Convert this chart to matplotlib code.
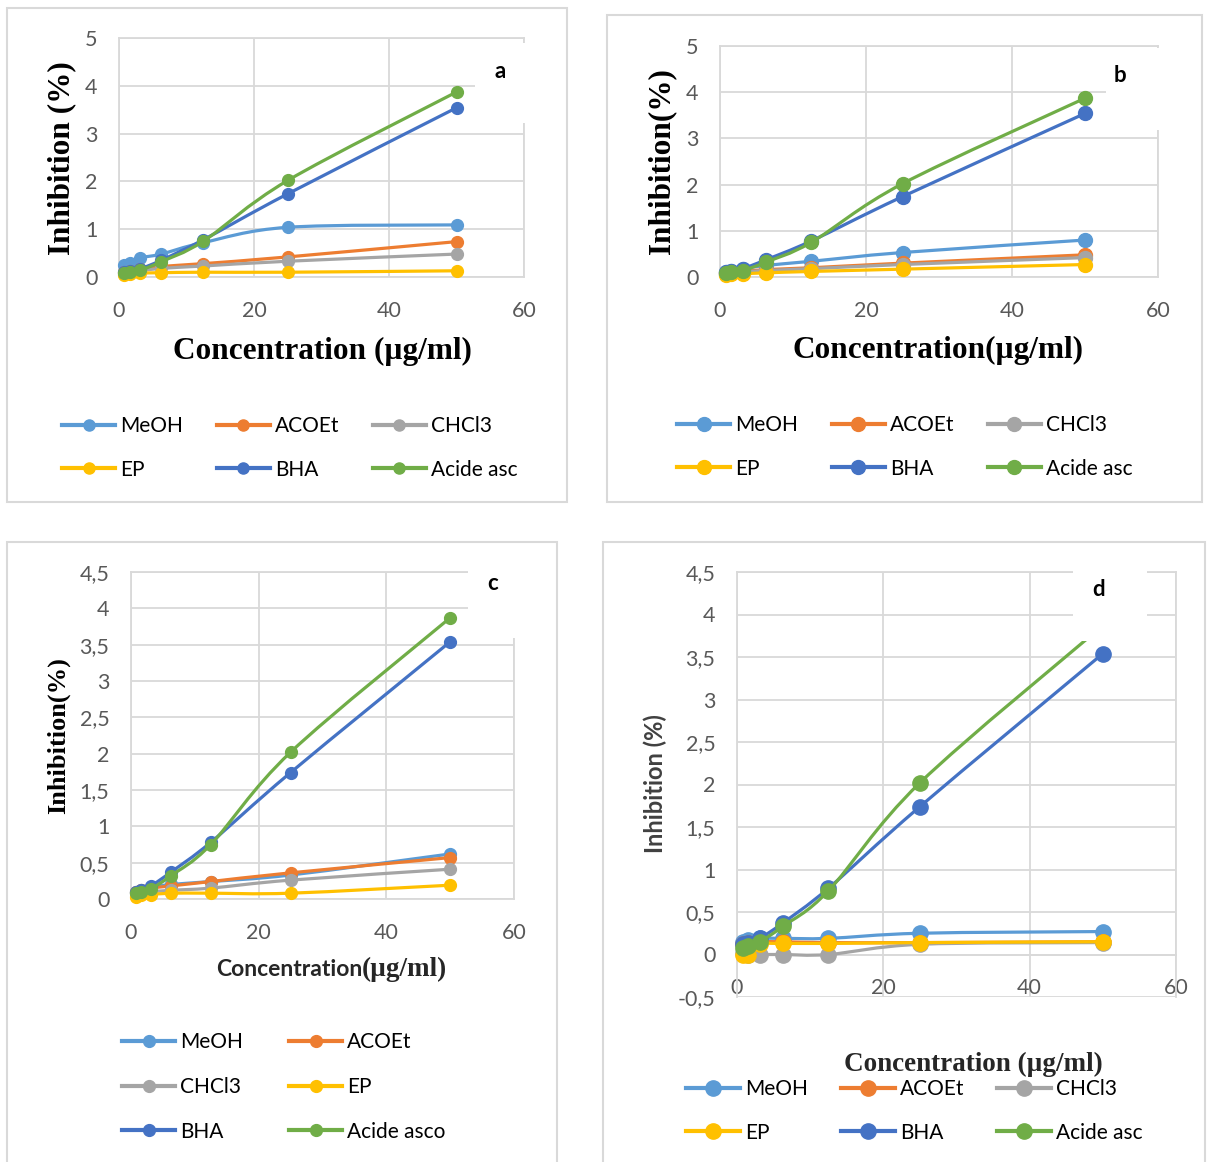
import numpy as np
import matplotlib.pyplot as plt
from matplotlib.path import Path
from matplotlib.patches import PathPatch, Rectangle
from matplotlib.lines import Line2D

# concentrations (µg/ml)
conc = [0.78, 1.56, 3.125, 6.25, 12.5, 25, 50]
names = ['MeOH', 'ACOEt', 'CHCl3', 'EP', 'BHA', 'Acide asc']
colors = ['#5B9BD5', '#ED7D31', '#A5A5A5', '#FFC000', '#4472C4', '#70AD47']

# panel a
meoh_a = [0.25, 0.30, 0.40, 0.48, 0.72, 1.04, 1.09]
acoet_a = [0.10, 0.12, 0.16, 0.22, 0.28, 0.42, 0.74]
chcl3_a = [0.08, 0.10, 0.13, 0.18, 0.23, 0.33, 0.48]
ep_a = [0.05, 0.06, 0.08, 0.09, 0.10, 0.10, 0.13]
bha_a = [0.10, 0.12, 0.17, 0.35, 0.78, 1.74, 3.54]
asc_a = [0.08, 0.10, 0.14, 0.32, 0.75, 2.02, 3.87]

# panel b
meoh_b = [0.10, 0.13, 0.18, 0.25, 0.34, 0.53, 0.80]
acoet_b = [0.08, 0.10, 0.12, 0.16, 0.20, 0.30, 0.48]
chcl3_b = [0.07, 0.09, 0.11, 0.14, 0.18, 0.27, 0.42]
ep_b = [0.05, 0.06, 0.07, 0.09, 0.12, 0.17, 0.27]
bha_b = [0.10, 0.13, 0.18, 0.37, 0.78, 1.74, 3.54]
asc_b = [0.08, 0.10, 0.14, 0.32, 0.75, 2.02, 3.87]

# panel c
meoh_c = [0.10, 0.12, 0.16, 0.20, 0.24, 0.33, 0.62]
acoet_c = [0.10, 0.12, 0.15, 0.18, 0.24, 0.36, 0.57]
chcl3_c = [0.08, 0.09, 0.10, 0.12, 0.15, 0.26, 0.41]
ep_c = [0.03, 0.05, 0.06, 0.08, 0.08, 0.08, 0.19]
bha_c = [0.10, 0.13, 0.18, 0.37, 0.78, 1.74, 3.54]
asc_c = [0.08, 0.10, 0.14, 0.32, 0.75, 2.02, 3.87]

# panel d
meoh_d = [0.15, 0.17, 0.19, 0.19, 0.19, 0.25, 0.27]
acoet_d = [0.12, 0.14, 0.15, 0.15, 0.14, 0.14, 0.15]
chcl3_d = [0.02, 0.00, 0.00, 0.00, 0.00, 0.12, 0.14]
ep_d = [0.00, 0.00, 0.12, 0.13, 0.13, 0.14, 0.15]
bha_d = [0.12, 0.14, 0.19, 0.37, 0.78, 1.74, 3.54]
asc_d = [0.08, 0.10, 0.15, 0.33, 0.75, 2.02, 3.87]

yt_ab = [0, 1, 2, 3, 4, 5]
yt_c = [0, 0.5, 1, 1.5, 2, 2.5, 3, 3.5, 4, 4.5]
yt_d = [-0.5, 0, 0.5, 1, 1.5, 2, 2.5, 3, 3.5, 4, 4.5]

W, H = 1208, 1162
fig = plt.figure(figsize=(W / 100, H / 100), dpi=100)
SERIF = 'Liberation Serif'
SANS = 'Lato'
GRID = '#D9D9D9'


def px(x0, y0, x1, y1):
    return [x0 / W, 1 - y1 / H, (x1 - x0) / W, (y1 - y0) / H]


def smooth(x, y):
    # excel-like smoothed line (catmull-rom as cubic bezier)
    x = np.asarray(x, float)
    y = np.asarray(y, float)
    n = len(x)
    verts = [(x[0], y[0])]
    codes = [Path.MOVETO]
    for i in range(n - 1):
        p = max(i - 1, 0)
        q = min(i + 2, n - 1)
        c1 = (x[i] + (x[i + 1] - x[p]) / 6, y[i] + (y[i + 1] - y[p]) / 6)
        c2 = (x[i + 1] - (x[q] - x[i]) / 6, y[i + 1] - (y[q] - y[i]) / 6)
        verts += [c1, c2, (x[i + 1], y[i + 1])]
        codes += [Path.CURVE4] * 3
    return Path(verts, codes)


def panel(rect, series, ylim, yticks, ms, lw, zero_axis=False):
    ax = fig.add_axes(rect)
    for i, vals in enumerate(series):
        ax.add_patch(PathPatch(smooth(conc, vals), fill=False, edgecolor=colors[i],
                               lw=lw, zorder=3 + i, capstyle='round', joinstyle='round'))
        ax.plot(conc, vals, 'o', color=colors[i], ms=ms, zorder=3 + i, clip_on=False)
    ax.set_xlim(0, 60)
    ax.set_ylim(*ylim)
    ax.set_xticks([0, 20, 40, 60])
    ax.set_yticks(yticks)
    ax.set_yticklabels([('%g' % v).replace('.', ',') for v in yticks])
    ax.grid(True, color=GRID, lw=1.3)
    ax.set_axisbelow(True)
    for s in ax.spines.values():
        s.set_color(GRID)
        s.set_linewidth(1.3)
    if zero_axis:
        ax.spines['bottom'].set_position(('data', 0))
    ax.tick_params(length=0, labelsize=15.5, labelcolor='#595959')
    ax.tick_params(axis='x', pad=17)
    ax.tick_params(axis='y', pad=15.5)
    for t in ax.get_xticklabels() + ax.get_yticklabels():
        t.set_family(SANS)
    return ax


def legend(x, y, order, ncol, ms, hl=2.55, cs=1.6, ls=1.14):
    hs = [Line2D([], [], color=colors[i], lw=3, marker='o', ms=ms) for i in order]
    fig.legend(hs, [labels[i] for i in order], loc='upper left',
               bbox_to_anchor=(x / W, 1 - y / H), ncol=ncol, frameon=False,
               prop={'family': SANS, 'size': 15}, handlelength=hl, handletextpad=0.25,
               columnspacing=cs, labelspacing=ls, borderpad=0, borderaxespad=0)


def frame(x0, y0, x1, y1):
    fig.patches.append(Rectangle((x0 / W, 1 - y1 / H), (x1 - x0) / W, (y1 - y0) / H,
                                 transform=fig.transFigure, fill=False,
                                 edgecolor=GRID, lw=1.5, zorder=0))


def tag(letter, x, y, box):
    bx0, by0, bx1, by1 = box
    fig.patches.append(Rectangle((bx0 / W, 1 - by1 / H), (bx1 - bx0) / W, (by1 - by0) / H,
                                 transform=fig.transFigure, facecolor='white',
                                 edgecolor='none', zorder=5))
    fig.text(x / W, 1 - y / H, letter, family=SANS, weight='bold', size=16,
             ha='center', va='center', zorder=6)


# panel frames
frame(7, 8, 567, 502)
frame(607, 15, 1202, 502)
frame(7, 542, 557, 1175)
frame(603, 542, 1205, 1175)

# a
panel(px(119, 38, 524, 277), [meoh_a, acoet_a, chcl3_a, ep_a, bha_a, asc_a],
      (0, 5), yt_ab, 8.5, 2.3)
tag('a', 500, 72, (475, 43, 532, 123))
fig.text(62 / W, 1 - 158 / H, 'Inhibition (%)', family=SERIF, weight='bold', size=22.5,
         rotation=90, ha='center', va='center')
fig.text(322 / W, 1 - 351 / H, 'Concentration (µg/ml)', family=SERIF, weight='bold',
         size=22.5, ha='center', va='center')
labels = names
legend(62, 416, [0, 3, 1, 4, 2, 5], 3, 8)

# b
panel(px(720, 46, 1158, 277), [meoh_b, acoet_b, chcl3_b, ep_b, bha_b, asc_b],
      (0, 5), yt_ab, 10, 2.3)
tag('b', 1120, 76, (1106, 48, 1170, 130))
fig.text(662 / W, 1 - 161 / H, 'Inhibition(%)', family=SERIF, weight='bold', size=22.5,
         rotation=90, ha='center', va='center')
fig.text(938 / W, 1 - 350 / H, 'Concentration(µg/ml)', family=SERIF, weight='bold',
         size=22.5, ha='center', va='center')
legend(677, 415, [0, 3, 1, 4, 2, 5], 3, 10)

# c
panel(px(131, 572, 514, 899), [meoh_c, acoet_c, chcl3_c, ep_c, bha_c, asc_c],
      (0, 4.5), yt_c, 8.5, 2.3)
tag('c', 493, 584, (468, 560, 530, 638))
fig.text(58 / W, 1 - 736 / H, 'Inhibition(%)', family=SERIF, weight='bold', size=19,
         rotation=90, ha='center', va='center')
fig.text(362 / W, 1 - 969 / H, 'Concentration', family=SANS, weight='bold', size=16.5,
         color='#262626', ha='right', va='center')
fig.text(362 / W, 1 - 969 / H, '(µg/ml)', family=SERIF, weight='bold', size=19.5,
         color='#262626', ha='left', va='center')
labels = names[:5] + ['Acide asco']
legend(122, 1032, [0, 2, 4, 1, 3, 5], 2, 8.5, cs=2.2, ls=1.19)

# d
panel(px(737, 572, 1176, 997), [meoh_d, acoet_d, chcl3_d, ep_d, bha_d, asc_d],
      (-0.5, 4.5), yt_d, 11, 2.3, zero_axis=True)
tag('d', 1099, 589, (1073, 565, 1147, 641))
fig.text(655 / W, 1 - 784 / H, 'Inhibition (%)', family=SANS, weight='bold', size=17,
         color='#404040', rotation=90, ha='center', va='center')
fig.text(973 / W, 1 - 1064 / H, 'Concentration (µg/ml)', family=SERIF, weight='bold',
         size=19.5, color='#262626', ha='center', va='center')
labels = names
legend(686, 1079, [0, 3, 1, 4, 2, 5], 3, 11, hl=2.6, cs=1.55)

fig.savefig('out.png', dpi=100, facecolor='white')
